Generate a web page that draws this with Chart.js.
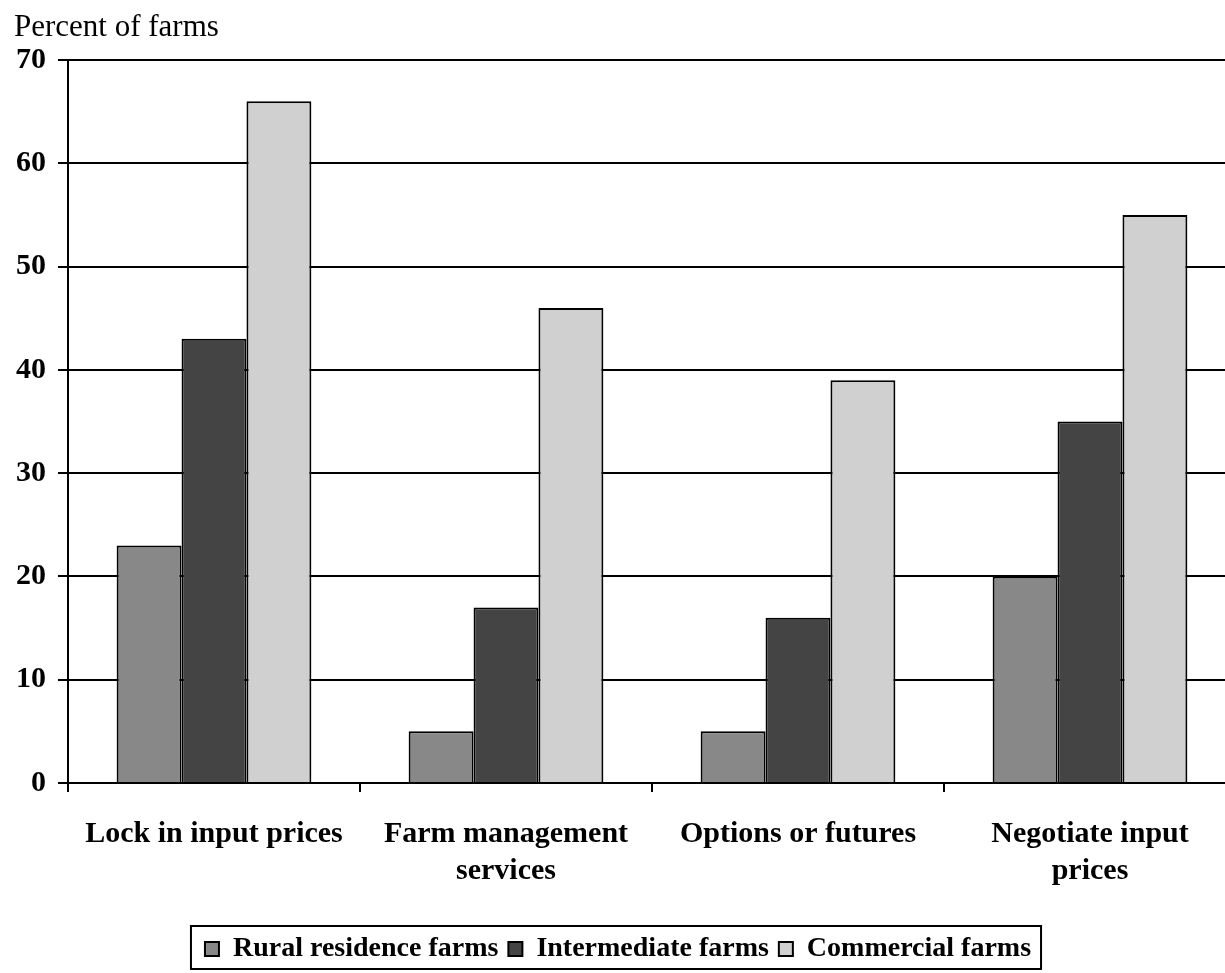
<!DOCTYPE html>
<html lang="en">
<head>
    <meta charset="UTF-8">
    <title>Percent of farms</title>
    <script src="https://cdn.jsdelivr.net/npm/chart.js"></script>
    <style>
        html, body { margin: 0; padding: 0; background: #fff; overflow: hidden; }
        #wrap { width: 1236px; height: 973px; }
    </style>
</head>
<body>
    <div id="wrap">
        <canvas id="barChart" width="1236" height="973"></canvas>
    </div>
    <script>
        // Adatok
        const categories = [
            ['Lock in input prices'],
            ['Farm management', 'services'],
            ['Options or futures'],
            ['Negotiate input', 'prices']
        ];
        const ruralResidence = [23, 5, 5, 20];
        const intermediate = [43, 17, 16, 35];
        const commercial = [66, 46, 39, 55];
        const yTicks = [0, 10, 20, 30, 40, 50, 60, 70];

        const serif = '"Liberation Serif", "Times New Roman", serif';

        // felirat a bal felső sarokban + keret a jelmagyarázat körül
        const extras = {
            id: 'extras',
            afterDraw(chart) {
                const c = chart.ctx;
                c.save();
                c.fillStyle = '#000';
                c.font = '31px ' + serif;
                c.textBaseline = 'middle';
                c.textAlign = 'left';
                c.fillText('Percent of farms', 14, 28);

                const hb = chart.legend.legendHitBoxes;
                if (hb && hb.length) {
                    const first = hb[0], last = hb[hb.length - 1];
                    const x0 = first.left - 14;
                    const x1 = last.left + last.width + 10;
                    const y0 = first.top - 9;
                    const y1 = first.top + first.height + 6;
                    c.strokeStyle = '#000';
                    c.lineWidth = 2;
                    c.strokeRect(x0, y0, x1 - x0, y1 - y0);
                }
                c.restore();
            }
        };

        const ctx = document.getElementById('barChart').getContext('2d');
        const chart = new Chart(ctx, {
            type: 'bar',
            data: {
                labels: categories,
                datasets: [
                    { label: 'Rural residence farms', data: ruralResidence, backgroundColor: '#888888' },
                    { label: 'Intermediate farms', data: intermediate, backgroundColor: '#444444' },
                    { label: 'Commercial farms', data: commercial, backgroundColor: '#d0d0d0' }
                ].map(ds => Object.assign(ds, {
                    borderColor: '#000',
                    borderWidth: 2,
                    categoryPercentage: 0.667,
                    barPercentage: 1.0
                }))
            },
            options: {
                responsive: false,
                animation: false,
                layout: { padding: { top: 60, right: 0, bottom: 0, left: 0 } },
                plugins: {
                    tooltip: { enabled: false },
                    legend: {
                        position: 'bottom',
                        labels: {
                            color: '#000',
                            font: { family: serif, size: 28, weight: 'bold', lineHeight: 1.25 },
                            boxWidth: 14,
                            boxHeight: 14,
                            padding: 10
                        }
                    }
                },
                scales: {
                    x: {
                        afterFit(scale) { scale.height = 142; },
                        border: { color: '#000', width: 2 },
                        grid: {
                            offset: true,
                            drawOnChartArea: false,
                            color: '#000',
                            lineWidth: 2,
                            tickLength: 9
                        },
                        ticks: {
                            color: '#000',
                            padding: 23,
                            maxRotation: 0,
                            autoSkip: false,
                            font: { family: serif, size: 30, weight: 'bold', lineHeight: 1.25 }
                        }
                    },
                    y: {
                        min: yTicks[0],
                        max: yTicks[yTicks.length - 1],
                        afterFit(scale) { scale.width = 68; },
                        afterBuildTicks(scale) { scale.ticks = yTicks.map(v => ({ value: v })); },
                        border: { color: '#000', width: 2 },
                        grid: { color: '#000', lineWidth: 2, tickLength: 10 },
                        ticks: {
                            color: '#000',
                            padding: 12,
                            font: { family: serif, size: 30, weight: 'bold' }
                        }
                    }
                }
            },
            plugins: [extras]
        });
    </script>
</body>
</html>
